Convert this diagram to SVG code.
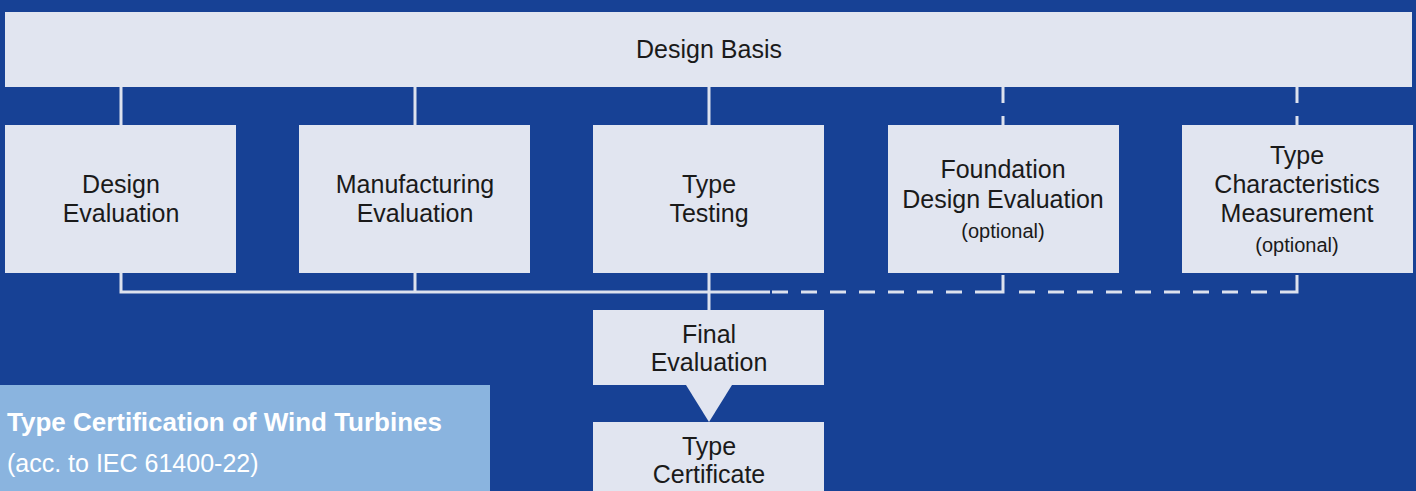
<svg xmlns="http://www.w3.org/2000/svg" width="1416" height="491" viewBox="0 0 1416 491">
<style>
.box{fill:#e1e5f0}
.t{font-family:"Liberation Sans",Arial,sans-serif;font-size:25px;fill:#1a1a1a;text-anchor:middle}
.s{font-size:20px}
.ln{stroke:#dde2ee;stroke-width:3;fill:none}
.dl{stroke:#dde2ee;stroke-width:3;fill:none;stroke-dasharray:16 13}
</style>
<rect width="1416" height="491" fill="#174195"/>
<g id="connectors">
<path class="ln" d="M121 87V125M415 87V125M709 87V125"/>
<path class="dl" d="M1003 87V125M1297 87V125"/>
<path class="ln" d="M121 273V292H770M415 273V292M709 273V310"/>
<path class="ln" d="M1003 275V292H988M1297 275V292H1282"/>
<path class="dl" d="M772 292H988M1019 292H1282"/>
<path d="M686 385H732L709 422Z" fill="#e1e5f0"/>
</g>
<g id="design-basis"><rect class="box" x="5" y="12" width="1407" height="75"/><text class="t" x="709" y="58">Design Basis</text></g>
<g id="design-evaluation"><rect class="box" x="5" y="125" width="231" height="148"/><text class="t" x="121" y="193">Design</text><text class="t" x="121" y="222">Evaluation</text></g>
<g id="manufacturing-evaluation"><rect class="box" x="299" y="125" width="231" height="148"/><text class="t" x="415" y="193">Manufacturing</text><text class="t" x="415" y="222">Evaluation</text></g>
<g id="type-testing"><rect class="box" x="593" y="125" width="231" height="148"/><text class="t" x="709" y="193">Type</text><text class="t" x="709" y="222">Testing</text></g>
<g id="foundation-design-evaluation"><rect class="box" x="888" y="125" width="231" height="148"/><text class="t" x="1003" y="178">Foundation</text><text class="t" x="1003" y="208">Design Evaluation</text><text class="t s" x="1003" y="238">(optional)</text></g>
<g id="type-characteristics-measurement"><rect class="box" x="1182" y="125" width="231" height="148"/><text class="t" x="1297" y="164">Type</text><text class="t" x="1297" y="193">Characteristics</text><text class="t" x="1297" y="222">Measurement</text><text class="t s" x="1297" y="252">(optional)</text></g>
<g id="final-evaluation"><rect class="box" x="593" y="310" width="231" height="75"/><text class="t" x="709" y="343">Final</text><text class="t" x="709" y="371">Evaluation</text></g>
<g id="type-certificate"><rect class="box" x="593" y="422" width="231" height="75"/><text class="t" x="709" y="455">Type</text><text class="t" x="709" y="483">Certificate</text></g>
<g id="title"><rect x="0" y="385" width="490" height="106" fill="#8ab4df"/><text x="7" y="431" font-family="'Liberation Sans',Arial,sans-serif" font-size="26" font-weight="bold" fill="#ffffff">Type Certification of Wind Turbines</text><text x="7" y="472" font-family="'Liberation Sans',Arial,sans-serif" font-size="25" fill="#ffffff">(acc. to IEC 61400-22)</text></g>
</svg>
